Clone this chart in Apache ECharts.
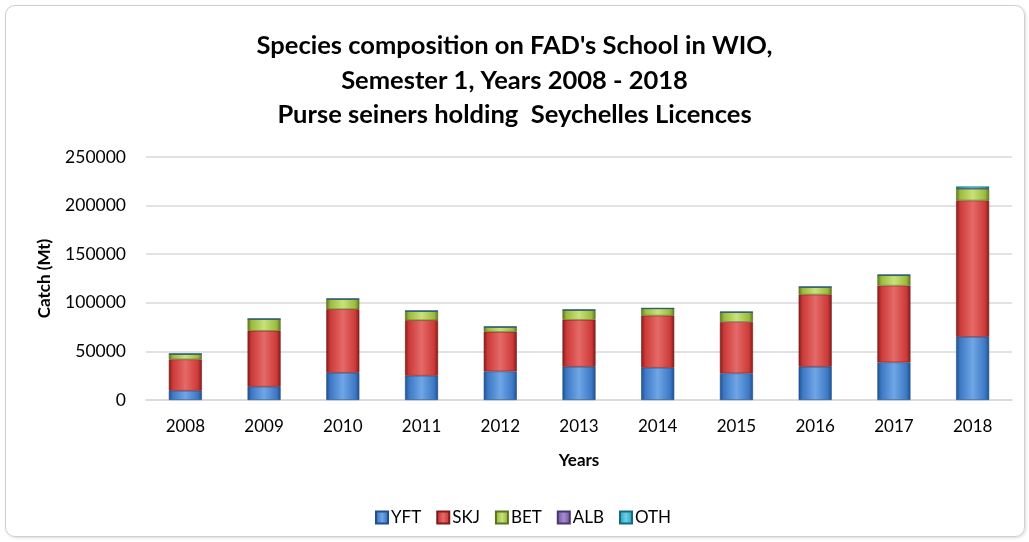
<!DOCTYPE html>
<html>
<head>
<meta charset="utf-8">
<script src="https://cdn.jsdelivr.net/npm/echarts@6/dist/echarts.min.js"></script>
<style>
  html, body { margin: 0; padding: 0; background: #fff; }
  #frame { position: absolute; left: 5px; top: 5px; width: 1018px; height: 530px;
           border: 1px solid #d0d0d0; border-radius: 10px; box-shadow: 1px 1px 3px rgba(0,0,0,0.15); }
  #chart { position: absolute; left: 0; top: 0; width: 1029px; height: 542px; }
</style>
</head>
<body>
<div id="frame"></div>
<div id="chart"></div>
<script>
// 数据
const years = ['2008', '2009', '2010', '2011', '2012', '2013', '2014', '2015', '2016', '2017', '2018']
const yft = [9500, 13700, 28000, 25000, 29400, 34200, 33200, 27400, 34200, 38700, 65000]
const skj = [32300, 57500, 65400, 57100, 40800, 48300, 53700, 53000, 74300, 79000, 140300]
const bet = [5400, 12000, 10300, 9300, 4800, 9900, 7200, 9900, 7500, 10600, 12000]
const alb = [100, 100, 200, 100, 100, 200, 100, 100, 200, 200, 300]
const oth = [200, 200, 300, 200, 200, 300, 200, 200, 300, 300, 2100]
const yTicks = [0, 50000, 100000, 150000, 200000, 250000]

const font = 'Lato, "Noto Sans", sans-serif'

// 立体效果的渐变色
const bevel = (light, base, dark) => new echarts.graphic.LinearGradient(0, 0, 1, 0, [
  { offset: 0, color: dark },
  { offset: 0.12, color: base },
  { offset: 0.5, color: light },
  { offset: 0.88, color: base },
  { offset: 1, color: dark }
])

const makeSeries = (name, data, light, base, dark) => ({
  name,
  type: 'bar',
  stack: 'total',
  barWidth: '42%',
  data,
  itemStyle: { color: bevel(light, base, dark), borderColor: dark, borderWidth: 0.6 }
})

const chart = echarts.init(document.getElementById('chart'))
chart.setOption({
  animation: false,
  title: {
    text: "Species composition on FAD's School in WIO,\nSemester 1, Years 2008 - 2018\nPurse seiners holding  Seychelles Licences",
    left: 'center',
    top: 24,
    textStyle: { fontFamily: font, fontSize: 25.5, fontWeight: 'bold', color: '#000', lineHeight: 34.5 }
  },
  legend: {
    bottom: 11,
    left: 370,
    itemWidth: 12,
    itemHeight: 12,
    itemGap: 15,
    icon: 'rect',
    textStyle: { fontFamily: font, fontSize: 17, color: '#000', padding: [0, 0, 0, -2] },
    data: ['YFT', 'SKJ', 'BET', 'ALB', 'OTH']
  },
  grid: { left: 146, right: 17, top: 157, bottom: 142 },
  xAxis: {
    type: 'category',
    data: years,
    name: 'Years',
    nameLocation: 'middle',
    nameGap: 52,
    nameTextStyle: { fontFamily: font, fontSize: 17, fontWeight: 'bold', color: '#000' },
    axisLine: { lineStyle: { color: '#d9d9d9', width: 1.5 } },
    axisTick: { show: false },
    axisLabel: { fontFamily: font, fontSize: 17, color: '#000', margin: 18 }
  },
  yAxis: {
    type: 'value',
    min: yTicks[0],
    max: yTicks[yTicks.length - 1],
    interval: 50000,
    name: 'Catch (Mt)',
    nameLocation: 'middle',
    nameGap: 93,
    nameTextStyle: { fontFamily: font, fontSize: 17, fontWeight: 'bold', color: '#000' },
    axisLine: { show: false },
    axisTick: { show: false },
    splitLine: { lineStyle: { color: '#d9d9d9', width: 1.5 } },
    axisLabel: { fontFamily: font, fontSize: 17.5, color: '#000', margin: 20, formatter: v => String(v) }
  },
  series: [
    makeSeries('YFT', yft, '#6fa6e6', '#3d78c4', '#1f4f8c'),
    makeSeries('SKJ', skj, '#e46a68', '#cc3a38', '#7e1c1b'),
    makeSeries('BET', bet, '#c8e27a', '#9bbb3b', '#5b7422'),
    makeSeries('ALB', alb, '#a58ccc', '#7b5ea8', '#4a3670'),
    makeSeries('OTH', oth, '#6fd0e6', '#2ea9c6', '#166a80')
  ]
})
</script>
</body>
</html>
